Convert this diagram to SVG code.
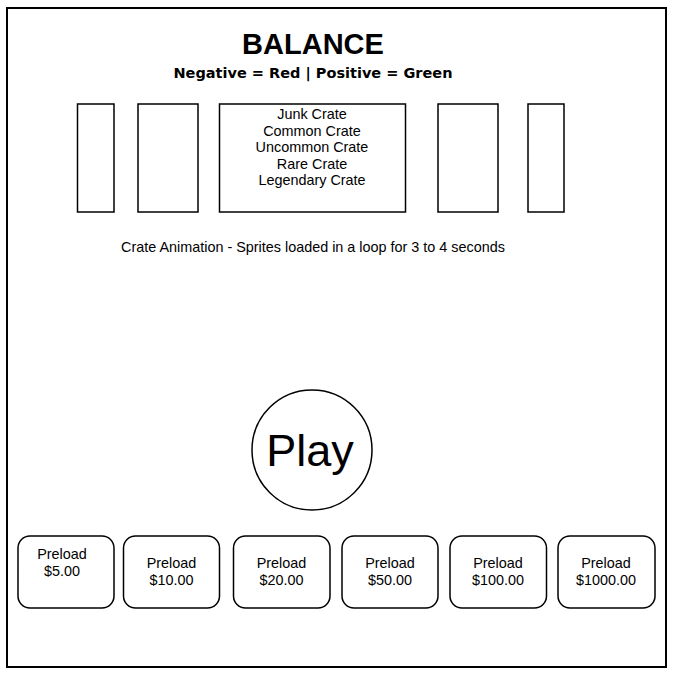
<svg xmlns="http://www.w3.org/2000/svg" width="680" height="678" viewBox="0 0 680 678">
<style>
  .frame{fill:#fff;stroke:#000;stroke-width:2}
  .box{fill:#fff;stroke:#000;stroke-width:1.5}
  .t{font-family:"Liberation Sans",Arial,sans-serif;font-size:14.4px;fill:#000;text-anchor:middle}
  .title{font-family:"Liberation Sans",Arial,sans-serif;font-size:29px;font-weight:bold;fill:#000;text-anchor:middle}
  .sub{font-family:"DejaVu Sans",sans-serif;font-size:14.5px;font-weight:bold;fill:#000;text-anchor:middle}
  .play{font-family:"Liberation Sans",Arial,sans-serif;font-size:45px;fill:#000;text-anchor:middle}
</style>
<rect width="680" height="678" fill="#fff"/>
<rect id="frame" class="frame" x="7" y="8" width="659" height="659"/>
<g id="header">
  <text class="title" x="313" y="54">BALANCE</text>
  <text class="sub" x="313" y="78">Negative = Red | Positive = Green</text>
</g>
<g id="crate1"><rect class="box" x="77.5" y="104" width="36.5" height="108"/></g>
<g id="crate2"><rect class="box" x="138" y="104" width="60" height="108"/></g>
<g id="crate3">
  <rect class="box" x="219.5" y="104" width="186" height="108"/>
  <text class="t" x="312" y="119">Junk Crate</text>
  <text class="t" x="312" y="135.5">Common Crate</text>
  <text class="t" x="312" y="152">Uncommon Crate</text>
  <text class="t" x="312" y="168.5">Rare Crate</text>
  <text class="t" x="312" y="185">Legendary Crate</text>
</g>
<g id="crate4"><rect class="box" x="438" y="104" width="60" height="108"/></g>
<g id="crate5"><rect class="box" x="528" y="104" width="36" height="108"/></g>
<g id="caption"><text class="t" x="313" y="252">Crate Animation - Sprites loaded in a loop for 3 to 4 seconds</text></g>
<g id="play">
  <circle class="box" cx="312" cy="450" r="60"/>
  <text class="play" x="310" y="466">Play</text>
</g>
<g id="preload5">
  <rect class="box" x="18" y="536" width="96" height="72" rx="12"/>
  <text class="t" x="62" y="559">Preload</text>
  <text class="t" x="62" y="576">$5.00</text>
</g>
<g id="preload10">
  <rect class="box" x="123.5" y="536" width="96" height="72" rx="12"/>
  <text class="t" x="171.5" y="568">Preload</text>
  <text class="t" x="171.5" y="585">$10.00</text>
</g>
<g id="preload20">
  <rect class="box" x="233.5" y="536" width="96.5" height="72" rx="12"/>
  <text class="t" x="281.5" y="568">Preload</text>
  <text class="t" x="281.5" y="585">$20.00</text>
</g>
<g id="preload50">
  <rect class="box" x="342" y="536" width="96" height="72" rx="12"/>
  <text class="t" x="390" y="568">Preload</text>
  <text class="t" x="390" y="585">$50.00</text>
</g>
<g id="preload100">
  <rect class="box" x="450" y="536" width="96.5" height="72" rx="12"/>
  <text class="t" x="498" y="568">Preload</text>
  <text class="t" x="498" y="585">$100.00</text>
</g>
<g id="preload1000">
  <rect class="box" x="558" y="536" width="97" height="72" rx="12"/>
  <text class="t" x="606" y="568">Preload</text>
  <text class="t" x="606" y="585">$1000.00</text>
</g>
<g id="connectors"></g>
</svg>
